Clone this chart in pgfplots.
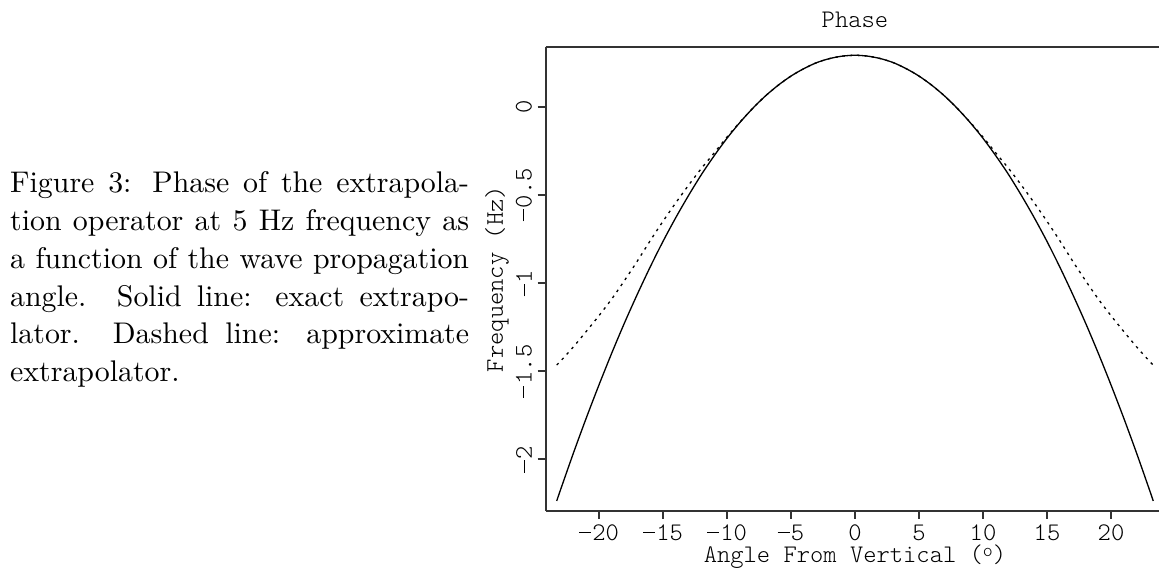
\documentclass[border=0pt]{standalone}
\usepackage{fontspec}
\usepackage{pgfplots}
\pgfplotsset{compat=1.18}
\usepackage{pgfplotstable}
\newfontfamily\lmlight{Latin Modern Mono Light}
\newcommand\mm{\makebox[0.525em][l]{\rule[0.29em]{0.48em}{0.04em}}}
\newcommand\axfont{\fontsize{8.7}{10}\lmlight}

\pgfplotstableread{
x y
-23.3 -2.236
-23 -2.172
-22 -1.965
-21 -1.767
-20 -1.578
-19 -1.397
-18 -1.225
-17 -1.063
-16 -0.909
-15 -0.764
-14 -0.629
-13 -0.503
-12 -0.385
-11 -0.278
-10 -0.179
-9 -0.090
-8 -0.010
-7 0.061
-6 0.122
-5 0.174
-4 0.216
-3 0.250
-2 0.273
-1 0.287
0 0.292
1 0.287
2 0.273
3 0.250
4 0.216
5 0.174
6 0.122
7 0.061
8 -0.010
9 -0.090
10 -0.179
11 -0.278
12 -0.385
13 -0.503
14 -0.629
15 -0.764
16 -0.909
17 -1.063
18 -1.225
19 -1.397
20 -1.578
21 -1.767
22 -1.965
23 -2.172
23.3 -2.236
}\solid

\pgfplotstableread{
x y
-23.3 -1.465
-23 -1.443
-22 -1.362
-21 -1.275
-20 -1.185
-19 -1.090
-18 -0.985
-17 -0.875
-16 -0.760
-15 -0.650
-14 -0.545
-13 -0.445
-12 -0.350
-11 -0.262
-10 -0.172
-9 -0.088
-8 -0.010
-7 0.061
-6 0.122
-5 0.174
-4 0.216
-3 0.250
-2 0.273
-1 0.287
0 0.292
1 0.287
2 0.273
3 0.250
4 0.216
5 0.174
6 0.122
7 0.061
8 -0.010
9 -0.088
10 -0.172
11 -0.262
12 -0.350
13 -0.445
14 -0.545
15 -0.650
16 -0.760
17 -0.875
18 -0.985
19 -1.090
20 -1.185
21 -1.275
22 -1.362
23 -1.443
23.3 -1.465
}\approxd

\begin{document}
\begin{tikzpicture}
\path[use as bounding box] (0pt,0pt) rectangle (398.28pt,-196.91pt);
% caption
\begingroup
\fontsize{10.26}{13}\selectfont
\node[anchor=base west, inner sep=0pt] at (3.3pt,-66.32pt) {\makebox[157.7pt][s]{Figure 3: Phase of the extrapola-}};
\node[anchor=base west, inner sep=0pt] at (3.3pt,-79.29pt) {\makebox[157.7pt][s]{tion operator at 5 Hz frequency as}};
\node[anchor=base west, inner sep=0pt] at (3.3pt,-92.26pt) {\makebox[157.7pt][s]{a function of the wave propagation}};
\node[anchor=base west, inner sep=0pt] at (3.3pt,-105.23pt) {\makebox[157.7pt][s]{angle.\ \ Solid line: exact extrapo-}};
\node[anchor=base west, inner sep=0pt] at (3.3pt,-118.20pt) {\makebox[157.7pt][s]{lator.\ \ Dashed line: approximate}};
\node[anchor=base west, inner sep=0pt] at (3.3pt,-131.17pt) {extrapolator.};
\endgroup
\begin{axis}[
  at={(187.53pt,-175.60pt)}, anchor=south west,
  scale only axis, width=210.75pt, height=159.45pt,
  xmin=-24.16, xmax=23.75, ymin=-2.293, ymax=0.339,
  axis x line*=box, axis y line*=left,
  xtick pos=bottom, ytick pos=left,
  tick align=outside, major tick length=2.75pt,
  axis line style={black!80, line width=0.6pt},
  every tick/.style={black!80, line width=0.6pt},
  xtick={-20,-15,-10,-5,0,5,10,15,20},
  xticklabels={\mm20,\mm15,\mm10,\mm5,0,5,10,15,20},
  ytick={0,-0.5,-1,-1.5,-2},
  yticklabels={0,\mm0.5,\mm1,\mm1.5,\mm2},
  tick label style={font=\axfont},
  xticklabel style={inner sep=0pt, yshift=-1.8pt},
  yticklabel style={rotate=90, anchor=south, inner sep=1.8pt},
  clip=false,
]
\addplot[black, line width=0.45pt, smooth] table[x=x,y=y] {\solid};
\addplot[black, line width=0.45pt, smooth, dash pattern=on 0.9pt off 1.6pt] table[x=x,y=y] {\approxd};
\end{axis}
\node[font=\axfont] at (293.8pt,-6.87pt) {Phase};
\node[font=\axfont, inner sep=0pt] at (293.8pt,-191.4pt) {Angle From Vertical (\raisebox{0.55ex}{\fontsize{6.5}{7}\lmlight o})};
\node[font=\axfont, rotate=90, inner sep=0pt] at (170.79pt,-95.88pt) {Frequency (Hz)};
\end{tikzpicture}
\end{document}
